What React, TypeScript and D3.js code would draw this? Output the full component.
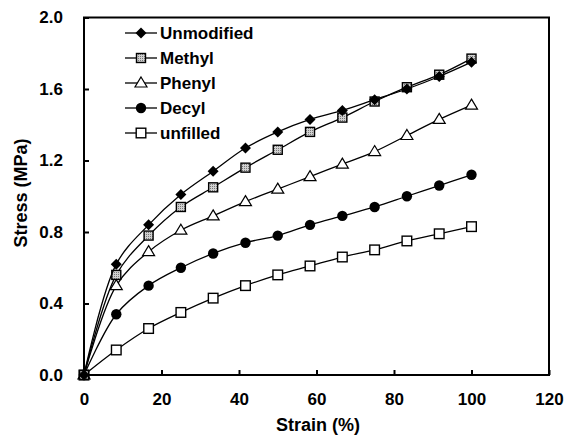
import { useEffect, useRef } from 'react';
import * as d3 from 'd3';

const strain = [0, 8.33, 16.67, 25, 33.33, 41.67, 50, 58.33, 66.67, 75, 83.33, 91.67, 100];
const unmodified = [0, 0.62, 0.84, 1.01, 1.14, 1.27, 1.36, 1.43, 1.48, 1.54, 1.6, 1.67, 1.75];
const methyl = [0, 0.56, 0.78, 0.94, 1.05, 1.16, 1.26, 1.36, 1.44, 1.53, 1.61, 1.68, 1.77];
const phenyl = [0, 0.5, 0.69, 0.81, 0.89, 0.97, 1.04, 1.11, 1.18, 1.25, 1.34, 1.43, 1.51];
const decyl = [0, 0.34, 0.5, 0.6, 0.68, 0.74, 0.78, 0.84, 0.89, 0.94, 1.0, 1.06, 1.12];
const unfilled = [0, 0.14, 0.26, 0.35, 0.43, 0.5, 0.56, 0.61, 0.66, 0.7, 0.75, 0.79, 0.83];

const seriesNames = ['Unmodified', 'Methyl', 'Phenyl', 'Decyl', 'unfilled'];
const seriesValues = [unmodified, methyl, phenyl, decyl, unfilled];
const markerKinds = ['diamond', 'hatched', 'triangle', 'circle', 'square'];

const xTicks = [0, 20, 40, 60, 80, 100, 120];
const yTicks = [0, 0.4, 0.8, 1.2, 1.6, 2.0];

export default function App() {
  const ref = useRef<SVGSVGElement>(null);

  useEffect(() => {
    const svg = d3.select(ref.current);
    svg.selectAll('*').remove();
    const font = '"Liberation Sans", Arial, sans-serif';

    const x = d3.scaleLinear().domain([0, 120]).range([84, 549]);
    const y = d3.scaleLinear().domain([0, 2]).range([375, 17.5]);

    // frame
    svg.append('rect')
      .attr('x', x(0)).attr('y', y(2))
      .attr('width', x(120) - x(0)).attr('height', y(0) - y(2))
      .attr('fill', 'none').attr('stroke', '#000').attr('stroke-width', 2);

    // inner ticks
    const xAxis = svg.append('g')
      .attr('transform', `translate(0,${y(0)})`)
      .call(d3.axisBottom(x).tickValues(xTicks).tickSizeInner(-5).tickSizeOuter(0).tickPadding(18).tickFormat(d3.format('d')));
    xAxis.select('.domain').remove();
    xAxis.selectAll('line').attr('stroke-width', 2);
    xAxis.selectAll('text').attr('font-family', font).attr('font-size', 17).attr('font-weight', 'bold').attr('fill', '#000');

    const yAxis = svg.append('g')
      .attr('transform', `translate(${x(0)},0)`)
      .call(d3.axisLeft(y).tickValues(yTicks).tickSizeInner(-5).tickSizeOuter(0).tickPadding(21).tickFormat(d3.format('.1f')));
    yAxis.select('.domain').remove();
    yAxis.selectAll('line').attr('stroke-width', 2);
    yAxis.selectAll('text').attr('font-family', font).attr('font-size', 17).attr('font-weight', 'bold').attr('fill', '#000');

    // axis titles
    svg.append('text')
      .attr('x', 318).attr('y', 431)
      .attr('text-anchor', 'middle')
      .attr('font-family', font).attr('font-size', 18).attr('font-weight', 'bold')
      .text('Strain (%)');
    svg.append('text')
      .attr('transform', `translate(27,193) rotate(-90)`)
      .attr('text-anchor', 'middle')
      .attr('font-family', font).attr('font-size', 18).attr('font-weight', 'bold')
      .text('Stress (MPa)');

    const defs = svg.append('defs');
    const pat = defs.append('pattern')
      .attr('id', 'hatch').attr('patternUnits', 'userSpaceOnUse')
      .attr('width', 2).attr('height', 2);
    pat.append('rect').attr('width', 2).attr('height', 2).attr('fill', '#d0d0d0');
    pat.append('rect').attr('width', 1).attr('height', 1).attr('fill', '#777');

    const drawMarker = (g: any, kind: string, cx: number, cy: number) => {
      if (kind === 'diamond') {
        g.append('path').attr('d', `M${cx},${cy - 5.5}L${cx + 5.5},${cy}L${cx},${cy + 5.5}L${cx - 5.5},${cy}Z`).attr('fill', '#000');
      } else if (kind === 'hatched') {
        g.append('rect').attr('x', cx - 4.5).attr('y', cy - 4.5).attr('width', 9).attr('height', 9)
          .attr('fill', 'url(#hatch)').attr('stroke', '#000').attr('stroke-width', 1.4);
      } else if (kind === 'triangle') {
        g.append('path').attr('d', `M${cx},${cy - 6}L${cx + 6},${cy + 4}L${cx - 6},${cy + 4}Z`)
          .attr('fill', '#fff').attr('stroke', '#000').attr('stroke-width', 1.2);
      } else if (kind === 'circle') {
        g.append('circle').attr('cx', cx).attr('cy', cy).attr('r', 5.2).attr('fill', '#000');
      } else {
        g.append('rect').attr('x', cx - 4.8).attr('y', cy - 4.8).attr('width', 9.6).attr('height', 9.6)
          .attr('fill', '#fff').attr('stroke', '#000').attr('stroke-width', 1.4);
      }
    };

    const line = d3.line<number>()
      .x((_, i) => x(strain[i]))
      .y(d => y(d))
      .curve(d3.curveCatmullRom.alpha(0.5));

    // draw bottom-most series first so upper markers sit on top
    for (let s = seriesValues.length - 1; s >= 0; s--) {
      const g = svg.append('g');
      g.append('path')
        .attr('d', line(seriesValues[s]))
        .attr('fill', 'none').attr('stroke', '#000').attr('stroke-width', 1.3);
      seriesValues[s].forEach((v, i) => drawMarker(g, markerKinds[s], x(strain[i]), y(v)));
    }

    // legend
    const legend = svg.append('g');
    seriesNames.forEach((name, i) => {
      const ly = 33 + i * 25;
      legend.append('line').attr('x1', 125).attr('x2', 157).attr('y1', ly).attr('y2', ly)
        .attr('stroke', '#000').attr('stroke-width', 1.3);
      drawMarker(legend, markerKinds[i], 141, ly);
      legend.append('text')
        .attr('x', 160).attr('y', ly).attr('dy', '0.36em')
        .attr('font-family', font).attr('font-size', 17).attr('font-weight', 'bold')
        .text(name);
    });
  }, []);

  return (
    <svg ref={ref} width={568} height={437} style={{ position: 'absolute', left: 0, top: 0, background: '#fff' }} />
  );
}
